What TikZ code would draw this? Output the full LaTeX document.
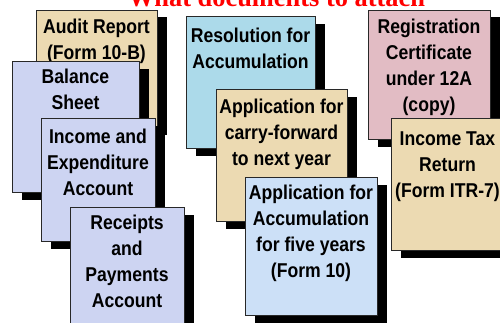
\documentclass[tikz,border=0pt]{standalone}
\usepackage{fontspec}
\usetikzlibrary{shadows}
\newfontfamily\docfont[FakeStretch=0.88]{Liberation Sans}
\newfontfamily\titlefont{Liberation Serif}
\definecolor{parchment}{RGB}{236,218,178}
\definecolor{lavender}{RGB}{205,212,242}
\definecolor{aqua}{RGB}{172,218,234}
\definecolor{skyblue}{RGB}{204,224,247}
\definecolor{rosepink}{RGB}{226,188,196}
\definecolor{edge}{RGB}{40,40,40}
\begin{document}
\begin{tikzpicture}[x=1pt,y=-1pt,
  card/.style={draw=edge, line width=1.1pt, inner sep=0pt, anchor=north west,
    drop shadow={shadow xshift=9.5pt, shadow yshift=-7pt, fill=black, opacity=1}},
  cardtext/.style={anchor=north, inner sep=0pt, align=center,
    font=\docfont\bfseries\fontsize{20}{26}\selectfont},
  heading/.style={anchor=base, inner sep=0pt, text=red,
    font=\titlefont\bfseries\fontsize{26.4}{30}\selectfont}]
\useasboundingbox (0,0) rectangle (500,322);
\clip (0,0) rectangle (500,322);

% card: name, left, top, right, bottom, colour, first baseline, text
\newcommand{\doccard}[8]{%
  \node[card, fill=#6, minimum width={(#4-#2)*1pt}, minimum height={(#5-#3)*1pt}]
    (#1) at (#2,#3) {};
  \node[cardtext] (#1-text) at ({(#2+#4)/2}, {#7-16}) {\rule{0pt}{16pt}#8};}

\node[heading] (title) at (276.5,6) {What documents to attach};

% left column
\doccard{audit}{36}{9.5}{157}{127}{parchment}{33}{Audit Report\\(Form 10-B)}
\doccard{balance}{12}{61}{139}{192}{lavender}{83}{Balance\\Sheet}
\doccard{income}{41}{118}{155}{241}{lavender}{143}{Income and\\Expenditure\\Account}
\doccard{receipts}{70}{207}{184}{335}{lavender}{229}{Receipts\\and\\Payments\\Account}

% middle column
\doccard{resolution}{186}{16}{315}{148}{aqua}{42}{Resolution for\\Accumulation}
\doccard{carry}{216}{89}{347}{221}{parchment}{113}{Application for\\carry-forward\\to next year}
\doccard{five}{245}{177}{377}{315}{skyblue}{199}{Application for\\Accumulation\\for five years\\(Form 10)}

% right column
\doccard{registration}{368}{9.5}{490}{139}{rosepink}{33}{Registration\\Certificate\\under 12A\\(copy)}
\doccard{itr}{391}{118}{504}{250}{parchment}{145}{Income Tax\\Return\\(Form ITR-7)}
\end{tikzpicture}
\end{document}
